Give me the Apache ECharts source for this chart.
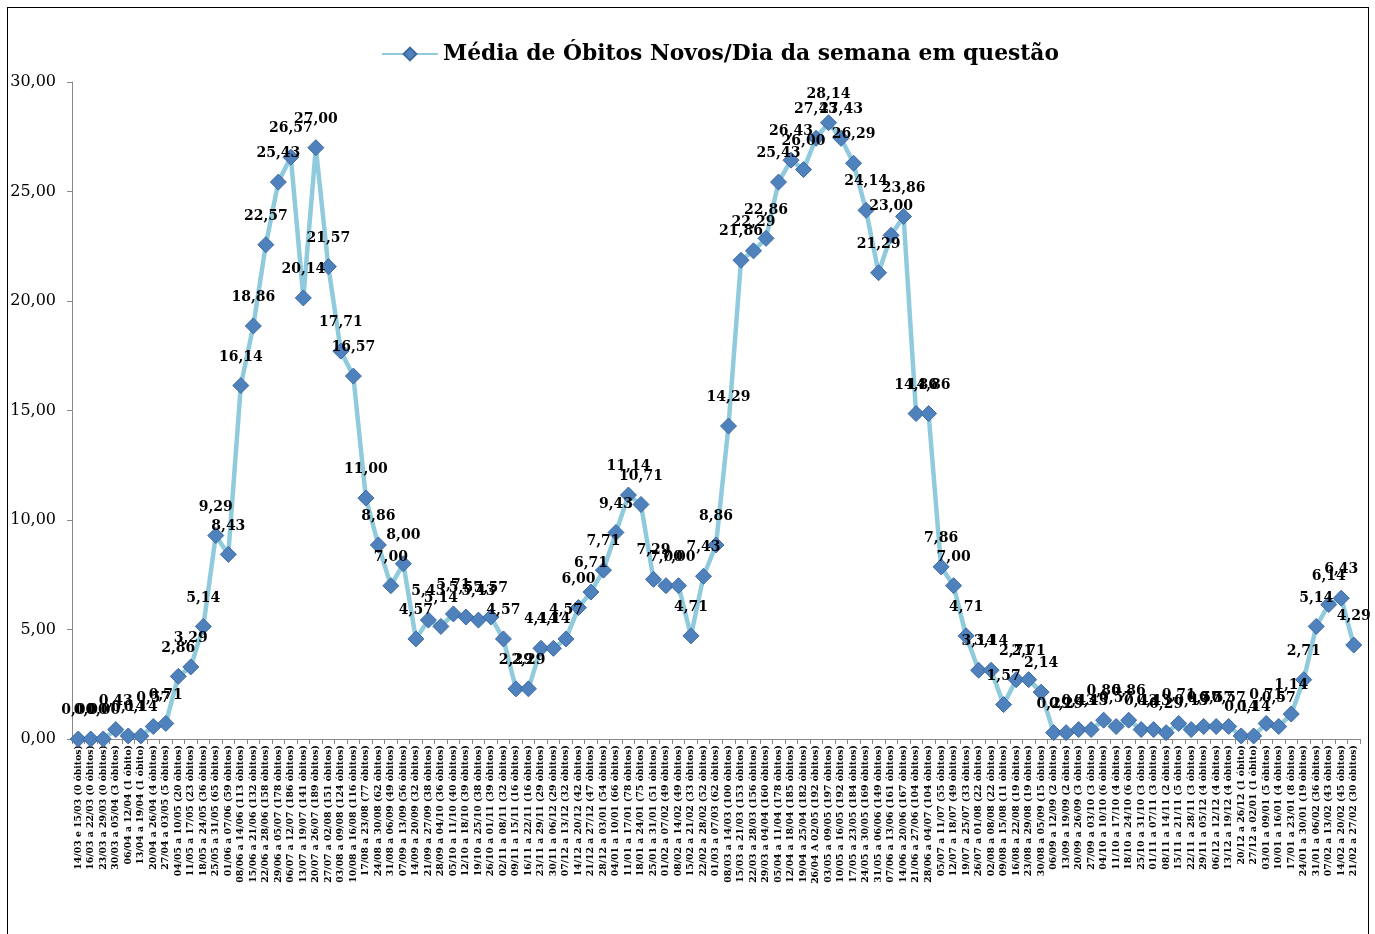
<!DOCTYPE html>
<html><head><meta charset="utf-8">
<script src="https://cdn.jsdelivr.net/npm/echarts@6/dist/echarts.min.js"></script>
<style>
html,body{margin:0;padding:0;background:#fff;}
#frame{position:absolute;left:7px;top:7px;width:1362px;height:940px;border:1px solid #000;box-sizing:border-box;}
#c{position:absolute;left:0;top:0;width:1375px;height:934px;}
</style></head><body>
<div id="frame"></div>
<div id="c"></div>
<script>
const categories = [
"14/03 e 15/03 (0 óbitos)","16/03 a 22/03 (0 óbitos)","23/03 a 29/03 (0 óbitos)","30/03 a 05/04 (3 óbitos)",
"06/04 a 12/04 (1 óbito)","13/04 a 19/04 (1 óbito)","20/04 a 26/04 (4 óbitos)","27/04 a 03/05 (5 óbitos)",
"04/05 a 10/05 (20 óbitos)","11/05 a 17/05 (23 óbitos)","18/05 a 24/05 (36 óbitos)","25/05 a 31/05 (65 óbitos)",
"01/06 a 07/06 (59 óbitos)","08/06 a 14/06 (113 óbitos)","15/06 a 21/06 (132 óbitos)","22/06 a 28/06 (158 óbitos)",
"29/06 a 05/07 (178 óbitos)","06/07 a 12/07 (186 óbitos)","13/07 a 19/07 (141 óbitos)","20/07 a 26/07 (189 óbitos)",
"27/07 a 02/08 (151 óbitos)","03/08 a 09/08 (124 óbitos)","10/08 a 16/08 (116 óbitos)","17/08 a 23/08 (77 óbitos)",
"24/08 a 30/08 (62 óbitos)","31/08 a 06/09 (49 óbitos)","07/09 a 13/09 (56 óbitos)","14/09 a 20/09 (32 óbitos)",
"21/09 a 27/09 (38 óbitos)","28/09 a 04/10 (36 óbitos)","05/10 a 11/10 (40 óbitos)","12/10 a 18/10 (39 óbitos)",
"19/10 a 25/10 (38 óbitos)","26/10 a 01/11 (39 óbitos)","02/11 a 08/11 (32 óbitos)","09/11 a 15/11 (16 óbitos)",
"16/11 a 22/11 (16 óbitos)","23/11 a 29/11 (29 óbitos)","30/11 a 06/12 (29 óbitos)","07/12 a 13/12 (32 óbitos)",
"14/12 a 20/12 (42 óbitos)","21/12 a 27/12 (47 óbitos)","28/12 a 03/01 (54 óbitos)","04/01 a 10/01 (66 óbitos)",
"11/01 a 17/01 (78 óbitos)","18/01 a 24/01 (75 óbitos)","25/01 a 31/01 (51 óbitos)","01/02 a 07/02 (49 óbitos)",
"08/02 a 14/02 (49 óbitos)","15/02 a 21/02 (33 óbitos)","22/02 a 28/02 (52 óbitos)","01/03 a 07/03 (62 óbitos)",
"08/03 a 14/03 (100 óbitos)","15/03 a 21/03 (153 óbitos)","22/03 a 28/03 (156 óbitos)","29/03 a 04/04 (160 óbitos)",
"05/04 a 11/04 (178 óbitos)","12/04 a 18/04 (185 óbitos)","19/04 a 25/04 (182 óbitos)","26/04 A 02/05 (192 óbitos)",
"03/05 a 09/05 (197 óbitos)","10/05 a 16/05 (192 óbitos)","17/05 a 23/05 (184 óbitos)","24/05 a 30/05 (169 óbitos)",
"31/05 a 06/06 (149 óbitos)","07/06 a 13/06 (161 óbitos)","14/06 a 20/06 (167 óbitos)","21/06 a 27/06 (104 óbitos)",
"28/06 a 04/07 (104 óbitos)","05/07 a 11/07 (55 óbitos)","12/07 a 18/07 (49 óbitos)","19/07 a 25/07 (33 óbitos)",
"26/07 a 01/08 (22 óbitos)","02/08 a 08/08 (22 óbitos)","09/08 a 15/08 (11 óbitos)","16/08 a 22/08 (19 óbitos)",
"23/08 a 29/08 (19 óbitos)","30/08 a 05/09 (15 óbitos)","06/09 a 12/09 (2 óbitos)","13/09 a 19/09 (2 óbitos)",
"20/09 a 26/09 (3 óbitos)","27/09 a 03/10 (3 óbitos)","04/10 a 10/10 (6 óbitos)","11/10 a 17/10 (4 óbitos)",
"18/10 a 24/10 (6 óbitos)","25/10 a 31/10 (3 óbitos)","01/11 a 07/11 (3 óbitos)","08/11 a 14/11 (2 óbitos)",
"15/11 a 21/11 (5 óbitos)","22/11 a 28/11 (3 óbitos)","29/11 a 05/12 (4 óbitos)","06/12 a 12/12 (4 óbitos)",
"13/12 a 19/12 (4 óbitos)","20/12 a 26/12 (1 óbito)","27/12 a 02/01 (1 óbito)","03/01 a 09/01 (5 óbitos)",
"10/01 a 16/01 (4 óbitos)","17/01 a 23/01 (8 óbitos)","24/01 a 30/01 (19 óbitos)","31/01 a 06/02 (36 óbitos)",
"07/02 a 13/02 (43 óbitos)","14/02 a 20/02 (45 óbitos)","21/02 a 27/02 (30 óbitos)"
];
const mediaObitos = [
0.00,0.00,0.00,0.43,0.14,0.14,0.57,0.71,2.86,3.29,5.14,9.29,8.43,16.14,18.86,22.57,25.43,26.57,20.14,27.00,
21.57,17.71,16.57,11.00,8.86,7.00,8.00,4.57,5.43,5.14,5.71,5.57,5.43,5.57,4.57,2.29,2.29,4.14,4.14,4.57,
6.00,6.71,7.71,9.43,11.14,10.71,7.29,7.00,7.00,4.71,7.43,8.86,14.29,21.86,22.29,22.86,25.43,26.43,26.00,27.43,
28.14,27.43,26.29,24.14,21.29,23.00,23.86,14.86,14.86,7.86,7.00,4.71,3.14,3.14,1.57,2.71,2.71,2.14,0.29,0.29,
0.43,0.43,0.86,0.57,0.86,0.43,0.43,0.29,0.71,0.43,0.57,0.57,0.57,0.14,0.14,0.71,0.57,1.14,2.71,5.14,
6.14,6.43,4.29
];
const seriesName = "Média de Óbitos Novos/Dia da semana em questão";
const fmt = v => v.toFixed(2).replace('.', ',');
const serif = "'DejaVu Serif', serif";
const chart = echarts.init(document.getElementById('c'));
chart.setOption({
  animation:false,
  legend:{top:38,left:376,itemWidth:56,itemHeight:16,itemGap:4,
    textStyle:{fontFamily:serif,fontWeight:'bold',fontSize:21.8,color:'#000'},
    data:[seriesName]},
  grid:{left:72,right:15,top:82,bottom:195,containLabel:false},
  xAxis:{type:'category',data:categories,boundaryGap:true,
    axisLine:{lineStyle:{color:'#888',width:1}},
    axisTick:{show:true,alignWithLabel:false,lineStyle:{color:'#888'}},
    axisLabel:{interval:0,rotate:90,fontFamily:serif,fontWeight:'bold',fontSize:9.3,color:'#000',margin:6}},
  yAxis:{type:'value',min:0,max:30,interval:5,
    axisLine:{show:true,lineStyle:{color:'#888'}},
    axisTick:{show:true,length:5,lineStyle:{color:'#888'}},
    splitLine:{show:false},
    axisLabel:{formatter:v=>fmt(v),fontFamily:serif,fontSize:16,color:'#000',margin:16}},
  series:[{name:seriesName,type:'line',data:mediaObitos,
    symbol:'diamond',symbolSize:16,
    lineStyle:{color:'#8FCBDD',width:4.5},
    itemStyle:{color:'#4F81BD',borderColor:'#3D6AA0',borderWidth:1},
    label:{show:true,position:'top',distance:13,formatter:p=>fmt(p.value),
      fontFamily:serif,fontWeight:'bold',fontSize:14,color:'#000'}}]
});
</script>
</body></html>
